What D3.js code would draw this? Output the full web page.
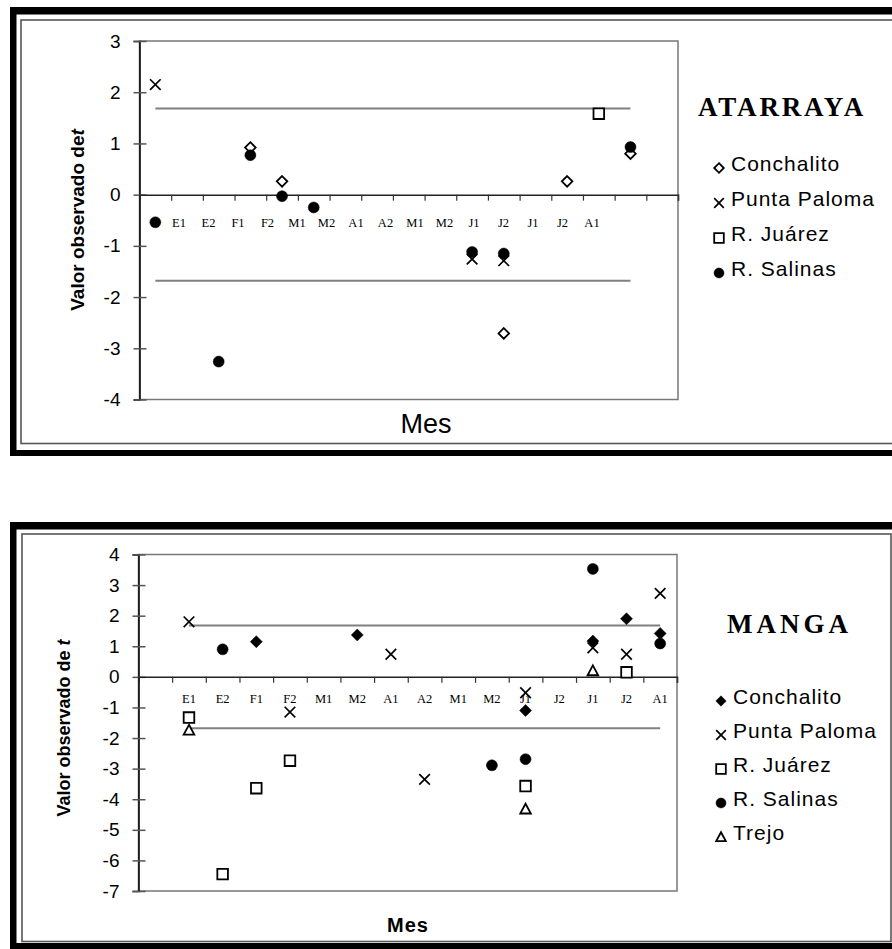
<!DOCTYPE html>
<html>
<head>
<meta charset="utf-8">
<script src="https://cdn.jsdelivr.net/npm/d3@7"></script>
<style>
  body { margin: 0; background: #fff; }
  svg { display: block; }
</style>
</head>
<body>
<div id="chart"></div>
<script>
// Tick labels written under the zero line (same for both panels)
const monthLabels = ['E1', 'E2', 'F1', 'F2', 'M1', 'M2', 'A1', 'A2', 'M1', 'M2', 'J1', 'J2', 'J1', 'J2', 'A1'];

// ATARRAYA: 17 sampling slots, null = no value
const atarrayaPeriods = [0, 1, 2, 3, 4, 5, 6, 7, 8, 9, 10, 11, 12, 13, 14, 15, 16];
const atarrayaConchalito = [null, null, null, 0.92, 0.26, null, null, null, null, null, null, -2.71, null, 0.26, null, 0.80, null];
const atarrayaPaloma = [2.15, null, null, null, null, null, null, null, null, null, -1.26, -1.29, null, null, null, null, null];
const atarrayaJuarez = [null, null, null, null, null, null, null, null, null, null, null, null, null, null, 1.58, null, null];
const atarrayaSalinas = [-0.54, null, -3.26, 0.77, -0.03, -0.25, null, null, null, null, -1.12, -1.15, null, null, null, 0.93, null];
const atarrayaTicks = [-4, -3, -2, -1, 0, 1, 2, 3];

// MANGA: 16 sampling slots
const mangaPeriods = [0, 1, 2, 3, 4, 5, 6, 7, 8, 9, 10, 11, 12, 13, 14, 15];
const mangaConchalito = [null, null, null, 1.15, null, null, 1.37, null, null, null, null, -1.10, null, 1.17, 1.90, 1.42];
const mangaPaloma = [null, 1.80, null, null, -1.15, null, null, 0.74, -3.35, null, null, -0.52, null, 0.95, 0.74, 2.73];
const mangaJuarez = [null, -1.33, -6.45, -3.64, -2.74, null, null, null, null, null, null, -3.57, null, null, 0.15, null];
const mangaSalinas = [null, null, 0.90, null, null, null, null, null, null, null, -2.89, -2.69, null, 3.53, null, 1.09];
const mangaTrejo = [null, -1.74, null, null, null, null, null, null, null, null, null, -4.32, null, 0.20, null, null];
const mangaTicks = [-7, -6, -5, -4, -3, -2, -1, 0, 1, 2, 3, 4];

// critical t value (lines drawn at +t and -t)
const tCrit = 1.68;

const svg = d3.select("#chart")
  .append("svg")
  .attr("width", 892)
  .attr("height", 949);

// marker shapes, r = half size
function markerPath(type, r) {
  const p = d3.path();
  if (type === 'diamond') {
    p.moveTo(0, -r); p.lineTo(r, 0); p.lineTo(0, r); p.lineTo(-r, 0); p.closePath();
  } else if (type === 'square') {
    p.rect(-r, -r, 2 * r, 2 * r);
  } else if (type === 'triangle') {
    p.moveTo(0, -r); p.lineTo(r, r * 0.85); p.lineTo(-r, r * 0.85); p.closePath();
  } else if (type === 'cross') {
    p.moveTo(-r, -r); p.lineTo(r, r); p.moveTo(r, -r); p.lineTo(-r, r);
  } else {
    p.arc(0, 0, r, 0, 2 * Math.PI);
  }
  return p.toString();
}

function drawMarker(sel, m, r) {
  sel.append("path")
    .attr("d", markerPath(m.shape, r))
    .attr("fill", m.shape === 'cross' ? 'none' : (m.filled ? '#000' : '#fff'))
    .attr("stroke", "#000")
    .attr("stroke-width", m.shape === 'cross' ? 1.7 : (m.filled ? 0.5 : 1.8));
}

function markerSize(m, legend) {
  if (m.shape === 'circle') return legend ? 5 : 5.5;
  if (m.shape === 'diamond' && m.filled) return legend ? 5.2 : 6;
  return legend ? 4.8 : 5.3;
}

function drawFrame(f) {
  // thick black edges (top, left, bottom)
  svg.append("rect").attr("x", 10).attr("y", f.top).attr("width", 882).attr("height", 7.5).attr("fill", "#000");
  svg.append("rect").attr("x", 10).attr("y", f.top).attr("width", 6.5).attr("height", f.bottom - f.top).attr("fill", "#000");
  svg.append("rect").attr("x", 10).attr("y", f.bottom - 6).attr("width", 882).attr("height", 6).attr("fill", "#000");
  // thin inner border
  svg.append("rect")
    .attr("x", f.innerX).attr("y", f.innerTop)
    .attr("width", f.innerRight - f.innerX).attr("height", f.innerBottom - f.innerTop)
    .attr("fill", "none").attr("stroke", "#555").attr("stroke-width", 1.6);
}

function drawPanel(c) {
  const g = svg.append("g");
  const x = d3.scaleLinear().domain([0, c.periods.length]).range([c.left, c.right]);
  const y = d3.scaleLinear().domain(d3.extent(c.ticks)).range([c.bottom, c.top]);

  // plot area frame
  g.append("rect")
    .attr("x", c.left).attr("y", c.top)
    .attr("width", c.right - c.left).attr("height", c.bottom - c.top)
    .attr("fill", "none").attr("stroke", "#777").attr("stroke-width", 1.5);

  // y axis with ticks crossing the line
  const yAxis = g.append("g")
    .attr("transform", `translate(${c.left},0)`)
    .call(d3.axisLeft(y).tickValues(c.ticks).tickSize(6).tickPadding(13).tickFormat(d => String(d)));
  yAxis.select(".domain").attr("stroke", "#000").attr("stroke-width", 1.5);
  yAxis.selectAll(".tick line").attr("x1", 7).attr("stroke", "#555").attr("stroke-width", 1.5);
  yAxis.selectAll(".tick text")
    .attr("font-family", "Arial, 'Liberation Sans', sans-serif")
    .attr("font-size", "19px").attr("fill", "#000");

  // zero line with slot boundary ticks
  const xAxis = g.append("g")
    .attr("transform", `translate(0,${y(0)})`)
    .call(d3.axisBottom(x).tickValues(c.periods.map(p => p + 1)).tickSize(6).tickFormat(""));
  xAxis.select(".domain").attr("stroke", "#222").attr("stroke-width", 1.5);
  xAxis.selectAll(".tick line").attr("stroke", "#333").attr("stroke-width", 1.2);

  // month labels
  const lx = c.labelScale(x);
  g.selectAll(".mlabel")
    .data(monthLabels)
    .enter()
    .append("text")
    .attr("class", "mlabel")
    .attr("x", (d, i) => lx(i))
    .attr("y", y(0) + c.labelDy)
    .attr("text-anchor", "middle")
    .attr("font-family", "'Times New Roman', 'Liberation Serif', serif")
    .attr("font-size", "12.5px")
    .text(d => d);

  // critical t lines
  [tCrit, -tCrit].forEach(v => {
    g.append("line")
      .attr("x1", x(c.lineFrom + 0.5)).attr("x2", x(c.lineTo + 0.5))
      .attr("y1", y(v)).attr("y2", y(v))
      .attr("stroke", "#808080").attr("stroke-width", 2);
  });

  // points
  c.series.forEach(s => {
    const pts = c.periods.map((p, i) => ({ p: p, v: s.values[i] })).filter(d => d.v !== null);
    pts.forEach(d => {
      const mg = g.append("g").attr("transform", `translate(${x(d.p + 0.5)},${y(d.v)})`);
      drawMarker(mg, s, markerSize(s, false));
    });
  });

  // y title
  const yt = g.append("text")
    .attr("transform", `translate(${c.yTitleX},${c.yTitleY}) rotate(-90)`)
    .attr("text-anchor", "middle")
    .attr("font-family", "Arial, 'Liberation Sans', sans-serif")
    .attr("font-weight", "bold")
    .attr("font-size", c.yTitleSize);
  yt.append("tspan").text(c.yTitle);
  yt.append("tspan").attr("font-style", "italic").text("t");

  // x title
  g.append("text")
    .attr("x", c.xTitleX).attr("y", c.xTitleY)
    .attr("text-anchor", "middle")
    .attr("font-family", "Arial, 'Liberation Sans', sans-serif")
    .attr("font-weight", c.xTitleWeight)
    .attr("font-size", c.xTitleSize)
    .attr("letter-spacing", c.xTitleSpacing)
    .text("Mes");

  // panel name
  g.append("text")
    .attr("x", c.nameX).attr("y", c.nameY)
    .attr("font-family", "'Times New Roman', 'Liberation Serif', serif")
    .attr("font-weight", "bold")
    .attr("font-size", "27px")
    .attr("letter-spacing", c.nameSpacing)
    .text(c.name);

  // legend
  const leg = g.selectAll(".leg")
    .data(c.series)
    .enter()
    .append("g")
    .attr("transform", (d, i) => `translate(${c.legX},${c.legY + i * c.legStep})`);
  leg.each(function (d) {
    const mg = d3.select(this).append("g").attr("transform", "translate(0,-3)");
    drawMarker(mg, d, markerSize(d, true));
  });
  leg.append("text")
    .attr("x", 12)
    .attr("font-family", "Arial, 'Liberation Sans', sans-serif")
    .attr("font-size", "21px")
    .attr("letter-spacing", "1px")
    .text(d => d.name);
}

// top panel
drawFrame({ top: 7, bottom: 456, innerX: 21, innerTop: 20, innerRight: 905, innerBottom: 443.5 });
drawPanel({
  name: 'ATARRAYA', nameX: 698, nameY: 116, nameSpacing: '2.8px',
  periods: atarrayaPeriods, ticks: atarrayaTicks,
  left: 139.5, right: 678, top: 41, bottom: 399.5,
  labelScale: () => d3.scalePoint().domain(d3.range(monthLabels.length)).range([179, 592]),
  labelDy: 32,
  lineFrom: 0, lineTo: 15,
  series: [
    { name: 'Conchalito', shape: 'diamond', filled: false, values: atarrayaConchalito },
    { name: 'Punta Paloma', shape: 'cross', values: atarrayaPaloma },
    { name: 'R. Juárez', shape: 'square', filled: false, values: atarrayaJuarez },
    { name: 'R. Salinas', shape: 'circle', filled: true, values: atarrayaSalinas }
  ],
  yTitle: 'Valor observado de', yTitleX: 84, yTitleY: 220, yTitleSize: '19px',
  xTitleX: 426, xTitleY: 433, xTitleSize: '27px', xTitleWeight: 'normal', xTitleSpacing: '0px',
  legX: 719, legY: 171, legStep: 35
});

// bottom panel
drawFrame({ top: 522, bottom: 949, innerX: 22, innerTop: 534, innerRight: 891, innerBottom: 941.5 });
drawPanel({
  name: 'MANGA', nameX: 727, nameY: 633, nameSpacing: '4px',
  periods: mangaPeriods, ticks: mangaTicks,
  left: 138.5, right: 677, top: 554.5, bottom: 891,
  labelScale: x => (i => x(i + 1.5)),
  labelDy: 26,
  lineFrom: 1, lineTo: 15,
  series: [
    { name: 'Conchalito', shape: 'diamond', filled: true, values: mangaConchalito },
    { name: 'Punta Paloma', shape: 'cross', values: mangaPaloma },
    { name: 'R. Juárez', shape: 'square', filled: false, values: mangaJuarez },
    { name: 'R. Salinas', shape: 'circle', filled: true, values: mangaSalinas },
    { name: 'Trejo', shape: 'triangle', filled: false, values: mangaTrejo }
  ],
  yTitle: 'Valor observado de ', yTitleX: 70, yTitleY: 728, yTitleSize: '18px',
  xTitleX: 408, xTitleY: 932, xTitleSize: '20px', xTitleWeight: 'bold', xTitleSpacing: '1px',
  legX: 721, legY: 704, legStep: 34
});
</script>
</body>
</html>
